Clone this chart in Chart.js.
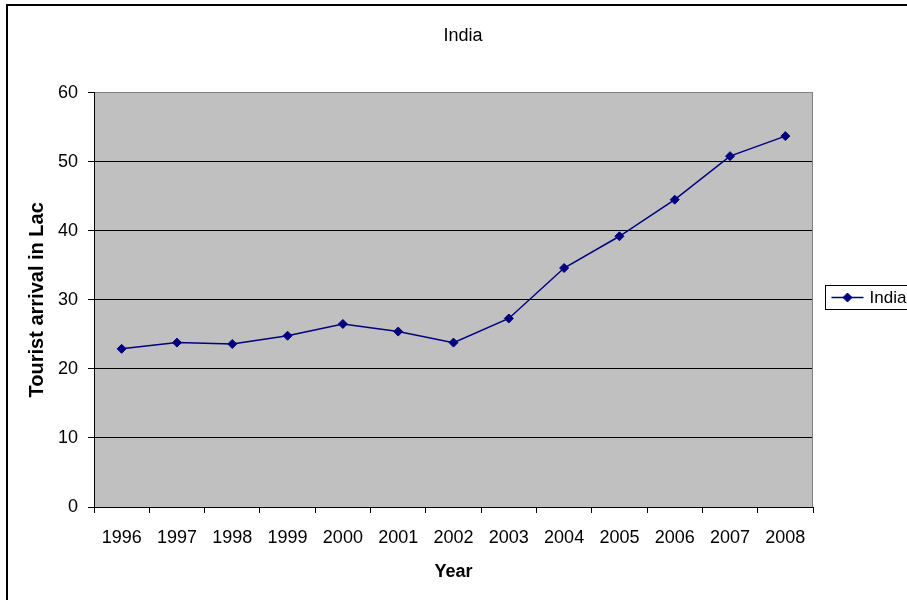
<!DOCTYPE html>
<html>
<head>
<meta charset="utf-8">
<script src="https://cdn.jsdelivr.net/npm/chart.js@4/dist/chart.umd.min.js"></script>
<style>
  html, body { margin: 0; padding: 0; background: #ffffff; }
  #wrap { width: 907px; height: 600px; position: relative; }
</style>
</head>
<body>
<div id="wrap"><canvas id="chart" width="907" height="600"></canvas></div>
<script>
// Foreign tourist arrivals in India, in lakh
const years = ['1996', '1997', '1998', '1999', '2000', '2001', '2002', '2003', '2004', '2005', '2006', '2007', '2008'];
const arrivals = [22.9, 23.8, 23.6, 24.8, 26.5, 25.4, 23.8, 27.3, 34.6, 39.2, 44.5, 50.8, 53.7];
const yTicks = [0, 10, 20, 30, 40, 50, 60];
const seriesName = 'India';
const chartTitle = 'India';
const xTitle = 'Year';
const yTitle = 'Tourist arrival in Lac';

const FONT = '"Liberation Sans", Arial, sans-serif';
const NAVY = '#000080';

// Plot-area fill, border, outer frame and a boxed legend on the right
const decor = {
  id: 'decor',
  beforeDraw(chart) {
    const { ctx, chartArea: a } = chart;
    ctx.save();
    ctx.fillStyle = '#ffffff';
    ctx.fillRect(0, 0, chart.width, chart.height);
    ctx.fillStyle = '#c0c0c0';
    ctx.fillRect(a.left, a.top, a.right - a.left, a.bottom - a.top);
    ctx.restore();
  },
  beforeDatasetsDraw(chart) {
    const { ctx, chartArea: a } = chart;
    ctx.save();
    ctx.strokeStyle = '#808080';
    ctx.lineWidth = 1;
    ctx.beginPath();
    ctx.moveTo(a.right - 0.5, a.top);
    ctx.lineTo(a.right - 0.5, a.bottom);
    ctx.stroke();
    ctx.restore();
  },
  afterDraw(chart) {
    const { ctx, chartArea: a } = chart;
    const ds = chart.data.datasets[0];
    ctx.save();
    // outer frame (top and left edges)
    ctx.strokeStyle = '#000000';
    ctx.lineWidth = 2;
    ctx.beginPath();
    ctx.moveTo(7, chart.height);
    ctx.lineTo(7, 5);
    ctx.lineTo(chart.width, 5);
    ctx.stroke();

    // legend box
    const bx = a.right + 12.5, by = 285.5, bh = 24;
    ctx.lineWidth = 1;
    ctx.fillStyle = '#ffffff';
    ctx.fillRect(bx, by, chart.width - bx + 5, bh);
    ctx.strokeRect(bx, by, chart.width - bx + 5, bh);
    const cy = by + bh / 2;
    ctx.strokeStyle = ds.borderColor;
    ctx.lineWidth = ds.borderWidth;
    ctx.beginPath();
    ctx.moveTo(bx + 6, cy);
    ctx.lineTo(bx + 38, cy);
    ctx.stroke();
    ctx.fillStyle = ds.pointBackgroundColor;
    ctx.strokeStyle = ds.pointBorderColor;
    ctx.lineWidth = 1;
    ctx.beginPath();
    const r = ds.pointRadius;
    ctx.moveTo(bx + 22, cy - r);
    ctx.lineTo(bx + 22 + r, cy);
    ctx.lineTo(bx + 22, cy + r);
    ctx.lineTo(bx + 22 - r, cy);
    ctx.closePath();
    ctx.fill();
    ctx.stroke();
    ctx.fillStyle = '#000000';
    ctx.font = '17px ' + FONT;
    ctx.textBaseline = 'middle';
    ctx.textAlign = 'left';
    ctx.fillText(ds.label, bx + 44, cy + 1);
    ctx.restore();
  }
};

new Chart(document.getElementById('chart'), {
  type: 'line',
  data: {
    labels: years,
    datasets: [{
      label: seriesName,
      data: arrivals,
      borderColor: NAVY,
      borderWidth: 1.5,
      backgroundColor: NAVY,
      pointStyle: 'rectRot',
      pointRadius: 4.5,
      pointBackgroundColor: NAVY,
      pointBorderColor: NAVY,
      pointBorderWidth: 1,
      tension: 0,
      fill: false,
      yAxisID: 'y'
    }]
  },
  options: {
    responsive: false,
    animation: false,
    devicePixelRatio: 1,
    layout: { padding: { left: 19, right: 0, top: 0, bottom: 0 } },
    plugins: {
      legend: { display: false },
      tooltip: { enabled: false },
      title: {
        display: true,
        text: chartTitle,
        color: '#000000',
        font: { family: FONT, size: 18, weight: 'normal', lineHeight: 1.2 },
        padding: { top: 25, bottom: 46 }
      }
    },
    scales: {
      x: {
        type: 'category',
        offset: true,
        grid: {
          offset: true,
          drawOnChartArea: false,
          drawTicks: true,
          tickLength: 6,
          tickColor: '#000000'
        },
        border: { display: true, color: '#000000', width: 1 },
        ticks: {
          color: '#000000',
          padding: 14,
          maxRotation: 0,
          autoSkip: false,
          font: { family: FONT, size: 18 }
        },
        title: {
          display: true,
          text: xTitle,
          color: '#000000',
          font: { family: FONT, size: 18, weight: 'bold', lineHeight: 1.2 },
          padding: { top: 0, bottom: 17 }
        },
        afterFit(scale) { scale.height = 93; }
      },
      y: {
        type: 'linear',
        position: 'left',
        min: 0,
        max: 60,
        afterBuildTicks(scale) { scale.ticks = yTicks.map(v => ({ value: v })); },
        grid: {
          color: ctx => (ctx.tick && ctx.tick.value === 60 ? '#808080' : '#000000'),
          lineWidth: 1,
          drawTicks: true,
          tickLength: 6,
          tickColor: '#000000'
        },
        border: { display: true, color: '#000000', width: 1 },
        ticks: {
          color: '#000000',
          padding: 10,
          font: { family: FONT, size: 18 }
        },
        title: {
          display: true,
          text: yTitle,
          color: '#000000',
          font: { family: FONT, size: 20, weight: 'bold', lineHeight: 1.2 },
          padding: { top: 6, bottom: 0 }
        },
        afterFit(scale) { scale.width = 75; }
      },
      legendSpace: {
        type: 'linear',
        position: 'right',
        display: true,
        min: 0,
        max: 1,
        grid: { display: false },
        border: { display: false },
        ticks: { display: false },
        afterFit(scale) { scale.width = 94; }
      }
    }
  },
  plugins: [decor]
});
</script>
</body>
</html>
